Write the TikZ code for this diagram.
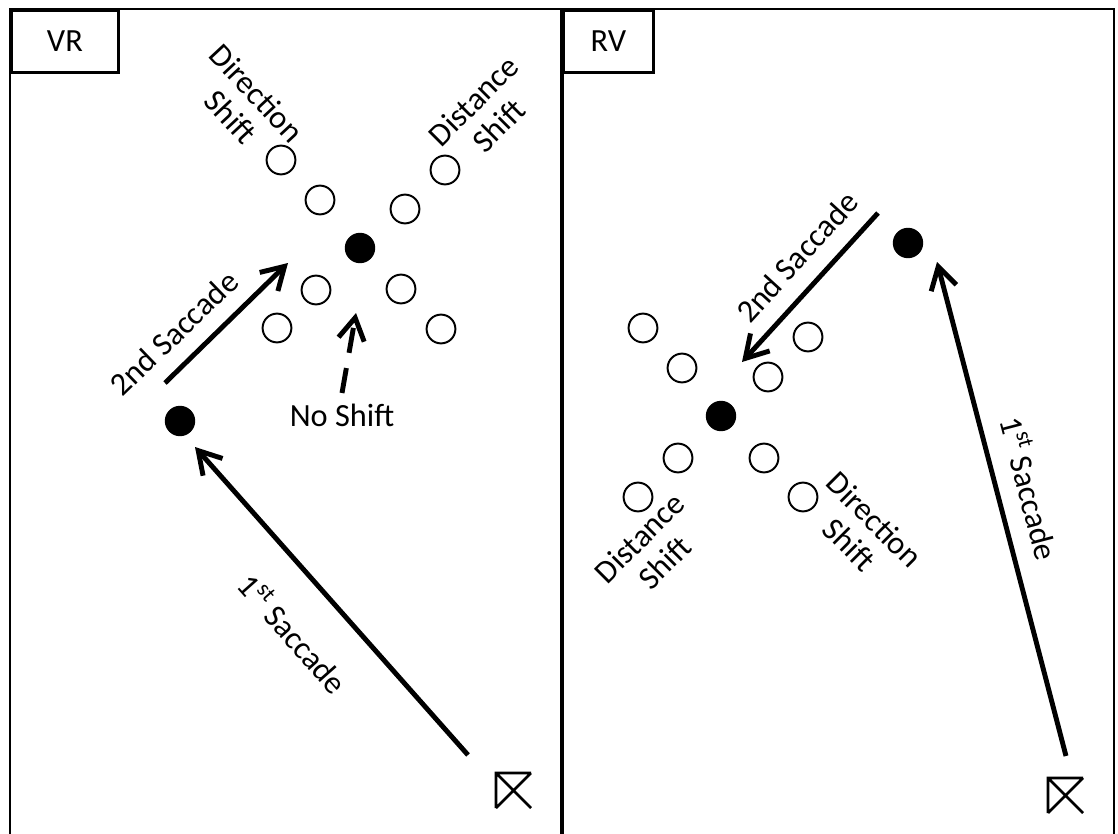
\documentclass[tikz,border=0pt]{standalone}
\usepackage{fontspec}
\setmainfont{Carlito}
\usetikzlibrary{arrows.meta}

\tikzset{
  frame/.style={line width=2pt},
  tag/.style={draw, line width=2pt, minimum width=2.675cm, minimum height=1.55cm, inner sep=0pt},
  target/.style={circle, draw, line width=1.4pt, minimum size=0.72cm, inner sep=0pt},
  fixation/.style={circle, fill, minimum size=0.76cm, inner sep=0pt},
  saccade/.style={line width=3.5pt, -{Straight Barb[length=5.5mm,width=6.5mm]}},
  startbox/.style={line width=1.8pt},
  lbl/.style={font=\fontsize{23}{25}\selectfont, inner sep=0pt, align=center}
}

\begin{document}
\begin{tikzpicture}[x=0.025cm, y=-0.025cm]
\useasboundingbox (0,0) rectangle (1118,834);

% panels
\draw[frame] (10,834) -- (10,9) -- (1114,9) -- (1114,834);
\draw[frame, line width=3pt] (562,9) -- (562,834);
\node[tag, anchor=north west, lbl, minimum width=2.675cm] (vr) at (10,9) {VR};
\node[tag, anchor=north west, lbl, minimum width=2.25cm] (rv) at (562,9) {RV};

%% VR panel
\node[fixation] (L-fix1) at (180,421) {};
\node[fixation] (L-fix2) at (360,248) {};

\node[target] (L-dir1) at (320,200) {};
\node[target] (L-dir2) at (281,160) {};
\node[target] (L-dir3) at (401,289) {};
\node[target] (L-dir4) at (441,329) {};
\node[target] (L-dis1) at (405,209) {};
\node[target] (L-dis2) at (445,170) {};
\node[target] (L-dis3) at (316,290) {};
\node[target] (L-dis4) at (277,328) {};

\coordinate (L-tail1) at (468,755);
\coordinate (L-tip1) at (195,447);
\coordinate (L-tail2) at (165,383);
\coordinate (L-tip2) at (288,263);
\coordinate (L-tail0) at (342,393);
\coordinate (L-tip0) at (356,313);

\draw[saccade] (L-tail1) -- (L-tip1);
\draw[saccade] (L-tail2) -- (L-tip2);
\draw[saccade, dash pattern=on 18pt off 11pt] (L-tail0) -- (L-tip0);

\node[lbl, rotate=-48.5] (L-first) at (294,633) {1\textsuperscript{st} Saccade};
\node[lbl, rotate=44] (L-second) at (174,333) {2nd Saccade};
\node[lbl] (L-none) at (342,415) {No Shift};
\node[lbl, rotate=-47] (L-dirlbl) at (244,105) {Direction\\Shift};
\node[lbl, rotate=45] (L-dislbl) at (486,113) {Distance\\Shift};

\draw[startbox] (496,808) -- (496,773) -- (531,773) (496,773) -- (531,808) (531,773) -- (496,808);

%% RV panel
\node[fixation] (R-fix1) at (908,243) {};
\node[fixation] (R-fix2) at (721,416) {};

\node[target] (R-dir1) at (764,458) {};
\node[target] (R-dir2) at (803,497) {};
\node[target] (R-dir3) at (682,368) {};
\node[target] (R-dir4) at (643,328) {};
\node[target] (R-dis1) at (678,458) {};
\node[target] (R-dis2) at (638,497) {};
\node[target] (R-dis3) at (768,377) {};
\node[target] (R-dis4) at (808,337) {};

\coordinate (R-tail1) at (1066,756);
\coordinate (R-tip1) at (937,262);
\coordinate (R-tail2) at (878,213);
\coordinate (R-tip2) at (742,362);

\draw[saccade] (R-tail1) -- (R-tip1);
\draw[saccade] (R-tail2) -- (R-tip2);

\node[lbl, rotate=-75.3] (R-first) at (1031,488) {1\textsuperscript{st} Saccade};
\node[lbl, rotate=47.6] (R-second) at (797,257) {2nd Saccade};
\node[lbl, rotate=45] (R-dislbl) at (652,550) {Distance\\Shift};
\node[lbl, rotate=-45] (R-dirlbl) at (862,532) {Direction\\Shift};

\draw[startbox] (1048,813) -- (1048,778) -- (1083,778) (1048,778) -- (1083,813) (1083,778) -- (1048,813);

\end{tikzpicture}
\end{document}
